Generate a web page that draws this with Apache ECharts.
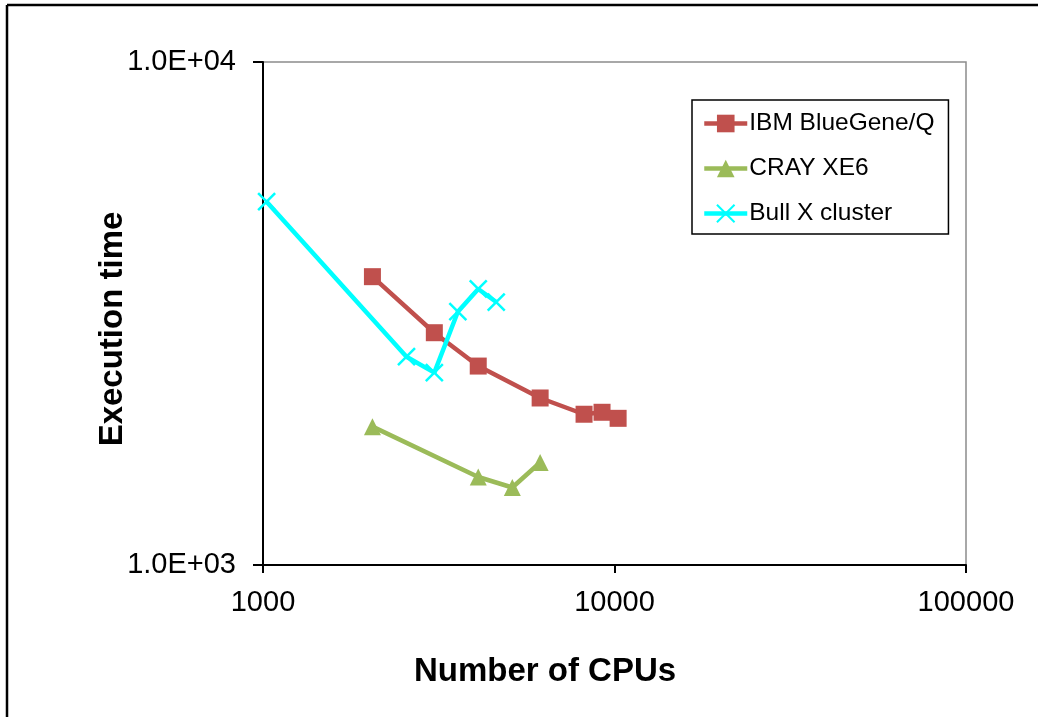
<!DOCTYPE html>
<html>
<head>
<meta charset="utf-8">
<style>
  html, body { margin: 0; padding: 0; background: #fff; }
  #chart { width: 1038px; height: 717px; }
</style>
<script src="https://cdn.jsdelivr.net/npm/echarts@6/dist/echarts.min.js"></script>
</head>
<body>
<div id="chart"></div>
<script>
// Execution time vs. number of CPUs (log-log)
const ibmCpus  = [2048, 3072, 4096, 6144, 8192, 9216, 10240];
const ibmTime  = [3743, 2896, 2486, 2148, 1994, 2012, 1957];
const crayCpus = [2048, 4096, 5120, 6144];
const crayTime = [1884, 1496, 1426, 1599];
const bullCpus = [1024, 2560, 3072, 3584, 4096, 4608];
const bullTime = [5276, 2595, 2412, 3188, 3538, 3333];

const seriesNames = ['IBM BlueGene/Q', 'CRAY XE6', 'Bull X cluster'];
const xTickLabels = ['1000', '10000', '100000'];
const yTickLabels = ['1.0E+03', '1.0E+04'];

const FONT = '"Liberation Sans", Arial, Helvetica, sans-serif';
const pairs = (xs, ys) => xs.map((x, i) => [x, ys[i]]);

const chart = echarts.init(document.getElementById('chart'), null, { renderer: 'canvas' });

const crossPath = 'path://M0,0L10,10M10,0L0,10';

chart.setOption({
  backgroundColor: '#ffffff',
  animation: false,
  textStyle: { fontFamily: FONT },
  grid: {
    left: 263, top: 62, right: 72, bottom: 152,
    show: true, borderColor: '#8c8c8c', borderWidth: 1.5, backgroundColor: 'transparent'
  },
  xAxis: {
    type: 'log', logBase: 10, min: 1000, max: 100000,
    axisLine: { show: true, onZero: false, lineStyle: { color: '#000', width: 2 } },
    axisTick: { show: true, inside: false, length: 8, lineStyle: { color: '#000', width: 2 } },
    axisLabel: {
      color: '#000', fontSize: 29, fontFamily: FONT, margin: 23,
      formatter: v => xTickLabels[Math.round(Math.log10(v)) - 3]
    },
    splitLine: { show: false }
  },
  yAxis: {
    type: 'log', logBase: 10, min: 1000, max: 10000,
    axisLine: { show: true, onZero: false, lineStyle: { color: '#000', width: 2 } },
    axisTick: { show: true, inside: false, length: 10, lineStyle: { color: '#000', width: 2 } },
    axisLabel: {
      color: '#000', fontSize: 29, fontFamily: FONT, margin: 27,
      formatter: v => yTickLabels[Math.round(Math.log10(v)) - 3]
    },
    splitLine: { show: false }
  },
  legend: {
    orient: 'vertical', left: 692, top: 100,
    width: 256,
    padding: [11, 14, 8, 10],
    borderColor: '#000', borderWidth: 1.5,
    itemWidth: 43, itemHeight: 22, itemGap: 20,
    lineStyle: { width: 4.5 },
    textStyle: { fontSize: 24.5, color: '#000', fontFamily: FONT, padding: [0, 0, 0, -3] },
    data: seriesNames
  },
  series: [
    {
      name: seriesNames[0], type: 'line', data: pairs(ibmCpus, ibmTime),
      symbol: 'rect', symbolSize: 17,
      lineStyle: { color: '#C0504D', width: 4.5 },
      itemStyle: { color: '#C0504D' }
    },
    {
      name: seriesNames[1], type: 'line', data: pairs(crayCpus, crayTime),
      symbol: 'triangle', symbolSize: [17, 17],
      lineStyle: { color: '#9BBB59', width: 4.5 },
      itemStyle: { color: '#9BBB59' }
    },
    {
      name: seriesNames[2], type: 'line', data: pairs(bullCpus, bullTime),
      symbol: crossPath, symbolSize: 17,
      lineStyle: { color: '#00FFFF', width: 4.5 },
      itemStyle: { color: 'transparent', borderColor: '#00FFFF', borderWidth: 2.5 }
    }
  ],
  graphic: [
    { type: 'line', shape: { x1: 7, y1: 5, x2: 1038, y2: 5 }, style: { stroke: '#000', lineWidth: 2.5 } },
    { type: 'line', shape: { x1: 7, y1: 5, x2: 7, y2: 717 }, style: { stroke: '#000', lineWidth: 2.5 } },
    {
      type: 'text', x: 545, y: 672,
      style: { text: 'Number of CPUs', font: 'bold 33px ' + FONT, fill: '#000', textAlign: 'center', textVerticalAlign: 'middle' }
    },
    {
      type: 'text', x: 113, y: 329, rotation: Math.PI / 2,
      style: { text: 'Execution time', font: 'bold 33px ' + FONT, fill: '#000', textAlign: 'center', textVerticalAlign: 'middle' }
    }
  ]
});
</script>
</body>
</html>
